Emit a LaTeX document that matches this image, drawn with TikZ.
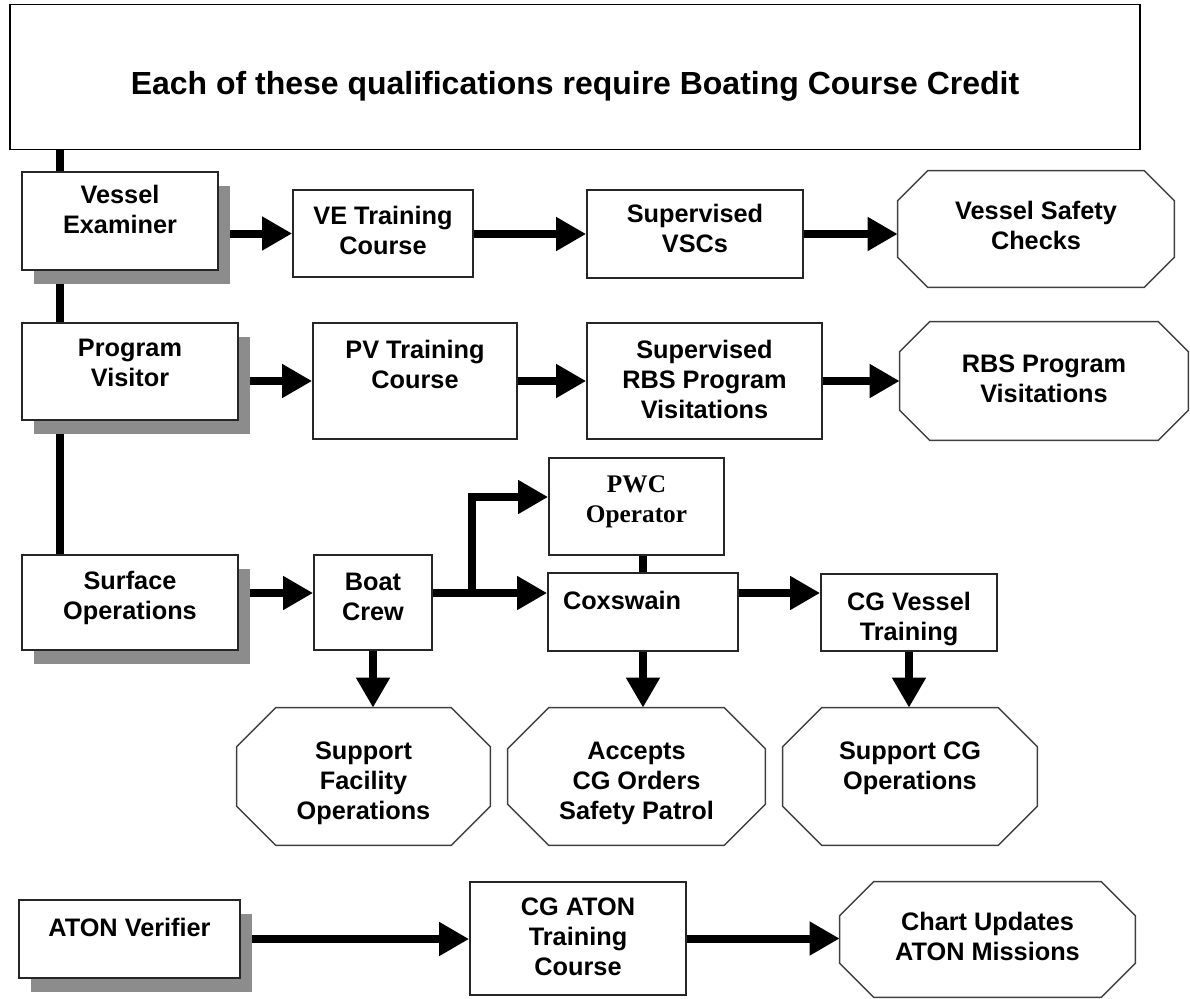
\documentclass[tikz,border=0pt]{standalone}
\usepackage{fontspec}
\setmainfont{Liberation Sans}
\newfontfamily\timesbf{Liberation Serif}
\usepackage{tikz}
\usetikzlibrary{arrows.meta,shadows,backgrounds,positioning}

\tikzset{
  banner/.style={rectangle, draw=black, line width=0.8pt, fill=white, minimum width=22.6cm, minimum height=2.9cm, font=\bfseries\fontsize{18.2}{22}\selectfont},
  qual/.style={rectangle, draw=black!85, line width=1pt, fill=white, align=center, font=\bfseries\fontsize{14.4}{17}\selectfont,
    drop shadow={shadow xshift=0.24cm, shadow yshift=-0.28cm, fill=black!45, opacity=1}},
  course/.style={rectangle, draw=black!85, line width=1pt, fill=white, align=center, font=\bfseries\fontsize{14.4}{17}\selectfont},
  duty/.style={rectangle, draw=none, align=center, font=\bfseries\fontsize{14.4}{17}\selectfont},
  octo/.style={draw=black!75, line width=0.8pt},
  lift/.style={text height=#1, text depth=0cm},
  line/.style={draw, line width=0.16cm, -{Triangle[length=0.6cm,width=0.64cm]}},
  trunk/.style={draw, line width=0.16cm},
}

% octagon round a node: name, chamfer
\newcommand{\octagon}[2]{%
  \draw[octo] ([xshift=#2]#1.north west) -- ([xshift=-#2]#1.north east) -- ([yshift=-#2]#1.north east)
    -- ([yshift=#2]#1.south east) -- ([xshift=-#2]#1.south east) -- ([xshift=#2]#1.south west)
    -- ([yshift=#2]#1.south west) -- ([yshift=-#2]#1.north west) -- cycle;}

\begin{document}
\begin{tikzpicture}[x=0.02cm, y=-0.02cm]
  \useasboundingbox (0,0) rectangle (1190,998);

  \node[banner, lift=0.7cm] (head) at (575,77) {Each of these qualifications require Boating Course Credit};

  %qualifications
  \node[qual, lift=0.48cm, minimum width=3.92cm, minimum height=1.96cm] (ve) at (120,221) {Vessel\\Examiner};
  \node[qual, lift=0.58cm, minimum width=4.32cm, minimum height=1.94cm] (pv) at (130,371.5) {Program\\Visitor};
  \node[qual, lift=0.66cm, minimum width=4.32cm, minimum height=1.9cm] (so) at (130,602.5) {Surface\\Operations};
  \node[qual, text height=0cm, text depth=0.12cm, minimum width=4.42cm, minimum height=1.56cm] (av) at (129.5,939) {ATON Verifier};

  %vessel examiner
  \node[course, lift=0.82cm, minimum width=3.6cm, minimum height=1.74cm] (vetc) at (383,233.5) {VE Training\\Course};
  \node[course, lift=0.72cm, minimum width=4.32cm, minimum height=1.76cm] (svsc) at (695,234) {Supervised\\VSCs};
  \node[duty, lift=0.82cm, minimum width=5.52cm, minimum height=2.32cm] (vsc) at (1036,229) {Vessel Safety\\Checks};

  %program visitor
  \node[course, lift=0.28cm, minimum width=4.08cm, minimum height=2.32cm] (pvtc) at (415,381) {PV Training\\Course};
  \node[course, lift=1.48cm, minimum width=4.7cm, minimum height=2.32cm] (srbs) at (704.5,381) {Supervised\\RBS Program\\Visitations};
  \node[duty, lift=0.84cm, minimum width=5.76cm, minimum height=2.36cm] (rbs) at (1044,381) {RBS Program\\Visitations};

  %surface operations
  \node[course, lift=0.7cm, minimum width=2.36cm, minimum height=1.9cm] (bc) at (373,602.5) {Boat\\Crew};
  \node[course, lift=0.62cm, font=\timesbf\bfseries\fontsize{14.4}{17}\selectfont, minimum width=3.5cm, minimum height=1.94cm] (pwc) at (636.5,506.5) {PWC\\Operator};
  \node[course, text height=0cm, text depth=0.12cm, minimum width=3.8cm, minimum height=1.56cm, text width=3.2cm, align=left] (cox) at (643,612) {Coxswain};
  \node[course, lift=1.1cm, minimum width=3.52cm, minimum height=1.54cm] (cgvt) at (909,612.5) {CG Vessel\\Training};
  \node[duty, lift=1.7cm, minimum width=5.06cm, minimum height=2.74cm] (sfo) at (363.5,776.5) {Support\\Facility\\Operations};
  \node[duty, lift=1.7cm, minimum width=5.14cm, minimum height=2.74cm] (acc) at (636.5,776.5) {Accepts\\CG Orders\\Safety Patrol};
  \node[duty, lift=0.5cm, minimum width=5.08cm, minimum height=2.74cm] (scg) at (910,776.5) {Support CG\\Operations};

  %aton
  \node[course, lift=1.46cm, minimum width=4.32cm, minimum height=2.26cm] (cgat) at (578,938.5) {CG ATON\\Training\\Course};
  \node[duty, lift=0.82cm, minimum width=5.9cm, minimum height=2.3cm] (chart) at (987.5,939.5) {Chart Updates\\ATON Missions};

  \octagon{vsc}{0.6cm}
  \octagon{rbs}{0.6cm}
  \octagon{sfo}{0.78cm}
  \octagon{acc}{0.82cm}
  \octagon{scg}{0.78cm}
  \octagon{chart}{0.68cm}

  \coordinate (spine) at (60,0);
  \coordinate (r3) at (0,593);
  \coordinate (fork) at (472,593);

  \begin{scope}[on background layer]
    \path[trunk] (head.south -| spine) -- (so.north -| spine);
    \path[line] (ve.east |- vetc.west) -- (vetc.west);
    \path[line] (vetc.east |- svsc.west) -- (svsc.west);
    \path[line] (svsc.east) -- (svsc.east -| vsc.west);

    \path[line] (pv.east |- pvtc.west) -- (pvtc.west);
    \path[line] (pvtc.east) -- (srbs.west);
    \path[line] (srbs.east) -- (srbs.east -| rbs.west);

    \path[line] (so.east |- r3) -- (bc.west |- r3);
    \path[line] (bc.east |- r3) -- (cox.west |- r3);
    \path[line] (fork) |- ([yshift=0.19cm]pwc.west);
    \path[trunk] (cox.north) -- (cox.north |- pwc.south);
    \path[line] (cox.east |- r3) -- (cgvt.west |- r3);
    \path[line] (bc.south) -- (bc.south |- sfo.north);
    \path[line] (cox.south) -- (cox.south |- acc.north);
    \path[line] (cgvt.south) -- (cgvt.south |- scg.north);

    \path[line] (av.east) -- (av.east -| cgat.west);
    \path[line] (cgat.east) -- (cgat.east -| chart.west);
  \end{scope}
\end{tikzpicture}
\end{document}
